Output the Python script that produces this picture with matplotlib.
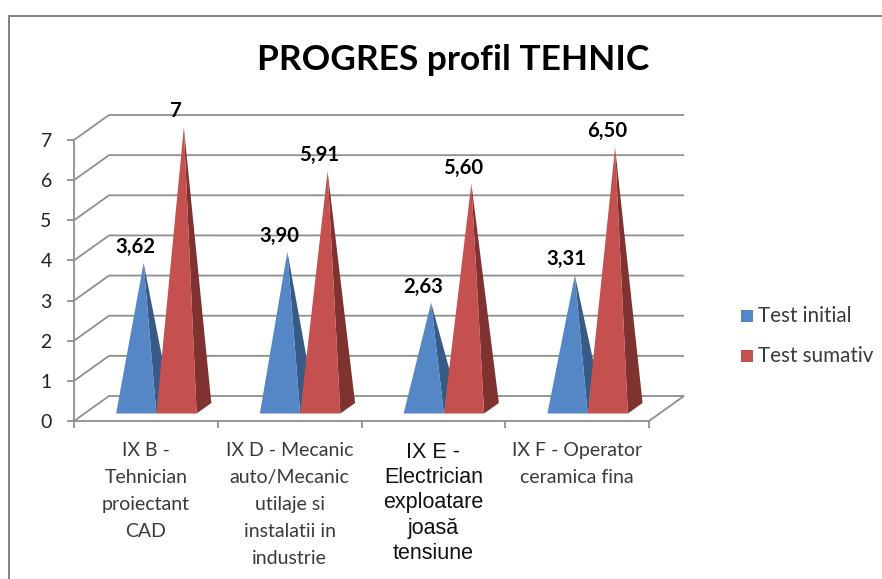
import matplotlib
matplotlib.use("Agg")
import matplotlib.pyplot as plt
from matplotlib.lines import Line2D
from matplotlib.patches import Polygon, Rectangle

categories = ["IX B -\nTehnician\nproiectant\nCAD",
              "IX D - Mecanic\nauto/Mecanic\nutilaje si\ninstalatii in\nindustrie",
              "IX E -\nElectrician\nexploatare\njoasă\ntensiune",
              "IX F - Operator\nceramica fina"]
test_initial = [3.62, 3.90, 2.63, 3.31]
test_sumativ = [7, 5.91, 5.60, 6.50]
initial_labels = ["3,62", "3,90", "2,63", "3,31"]
sumativ_labels = ["7", "5,91", "5,60", "6,50"]
y_ticks = [0, 1, 2, 3, 4, 5, 6, 7]
series_names = ["Test initial", "Test sumativ"]
title = "PROGRES profil TEHNIC"

W, H = 882, 579
FONT = "Lato"
GRID = "#8F8F8F"
BLUE, BLUE_SIDE = "#5587C6", "#365B87"
RED, RED_SIDE = "#C4514F", "#7F3230"
TEXT = "#3A3A3A"

fig = plt.figure(figsize=(W / 100, H / 100), dpi=100, facecolor="white")
L, R, T, B = 74, 649, 140, 421
ax = fig.add_axes([L / W, 1 - B / H, (R - L) / W, (B - T) / H])
ax.set_xlim(0, 4)
ax.set_ylim(0, 7)
ax.patch.set_visible(False)

# depth of the 3D box, in data units
DX = 35 / ((R - L) / 4)
DY = 25 / ((B - T) / 7)


def proj(x, y, d):
    return x + DX * d, y + DY * d


# walls and floor
line_kw = dict(color=GRID, lw=1.3, solid_capstyle="butt", clip_on=False, zorder=1)
for v in y_ticks:
    bx, by = proj(0, v, 1)
    ex, ey = proj(4, v, 1)
    ax.plot([0, bx, ex], [v, by, ey], **line_kw)
fx, fy = proj(4, 0, 1)
ax.plot([4, fx], [0, fy], **line_kw)

# pyramids
BAR_W = 0.28
D0, D1 = 0.30, 0.72


def pyramid(x0, x1, value, face, side):
    bl = proj(x0, 0, D0)
    br = proj(x1, 0, D0)
    bb = proj(x1, 0, D1)
    apex = proj((x0 + x1) / 2, value, (D0 + D1) / 2)
    ax.add_patch(Polygon([br, bb, apex], closed=True, fc=side, ec="none", clip_on=False, zorder=3))
    ax.add_patch(Polygon([bl, br, apex], closed=True, fc=face, ec="none", clip_on=False, zorder=3))
    return apex


for i, (a, b) in enumerate(zip(test_initial, test_sumativ)):
    c = i + 0.5
    for x0, v, col, side, lab in ((c - BAR_W, a, BLUE, BLUE_SIDE, initial_labels[i]),
                                  (c, b, RED, RED_SIDE, sumativ_labels[i])):
        apex = pyramid(x0, x0 + BAR_W, v, col, side)
        ax.annotate(lab, apex, xytext=(-6, 11.5), textcoords="offset points",
                    ha="center", va="center", fontsize=14.6, fontweight="bold",
                    color="black", family=FONT, zorder=5, annotation_clip=False)

# axes
for s in ("top", "right"):
    ax.spines[s].set_visible(False)
for s in ("left", "bottom"):
    ax.spines[s].set_color(GRID)
    ax.spines[s].set_linewidth(1.3)
ax.set_yticks(y_ticks)
ax.set_yticklabels([str(v) for v in y_ticks], family=FONT, fontsize=14, color="#222222")
ax.tick_params(axis="y", length=5, width=1.3, color=GRID, pad=11)
ax.set_xticks(range(5))
ax.set_xticklabels([])
ax.tick_params(axis="x", which="major", length=5, width=1.3, color=GRID)
ax.set_xticks([i + 0.5 for i in range(4)], minor=True)
ax.set_xticklabels(categories, minor=True, family=FONT, fontsize=14, color=TEXT,
                   linespacing=1.71, va="top")
ax.tick_params(axis="x", which="minor", length=0, pad=15)
lab3 = ax.get_xticklabels(minor=True)[2]
lab3.set_family("Liberation Sans")
lab3.set_fontsize(15.5)
lab3.set_color("#111111")
lab3.set_linespacing(1.27)

# title
fig.text(453 / W, 1 - 60 / H, title, ha="center", va="center", family=FONT,
         fontweight="bold", fontsize=25.4, color="black")

# legend
for name, col, y in zip(series_names, (BLUE, RED), (316, 356)):
    fig.patches.append(Rectangle((741 / W, 1 - (y + 6) / H), 12 / W, 12 / H, fc=col, ec="none",
                                 transform=fig.transFigure))
    fig.text(758 / W, 1 - y / H, name, ha="left", va="center", family=FONT, fontsize=14.9, color=TEXT)

# chart frame
fig.add_artist(Line2D([9 / W, 9 / W, 882 / W], [0, 1 - 16 / H, 1 - 16 / H],
                      color="#858585", lw=1.44, transform=fig.transFigure))

fig.savefig("out.png", dpi=100, facecolor="white")
